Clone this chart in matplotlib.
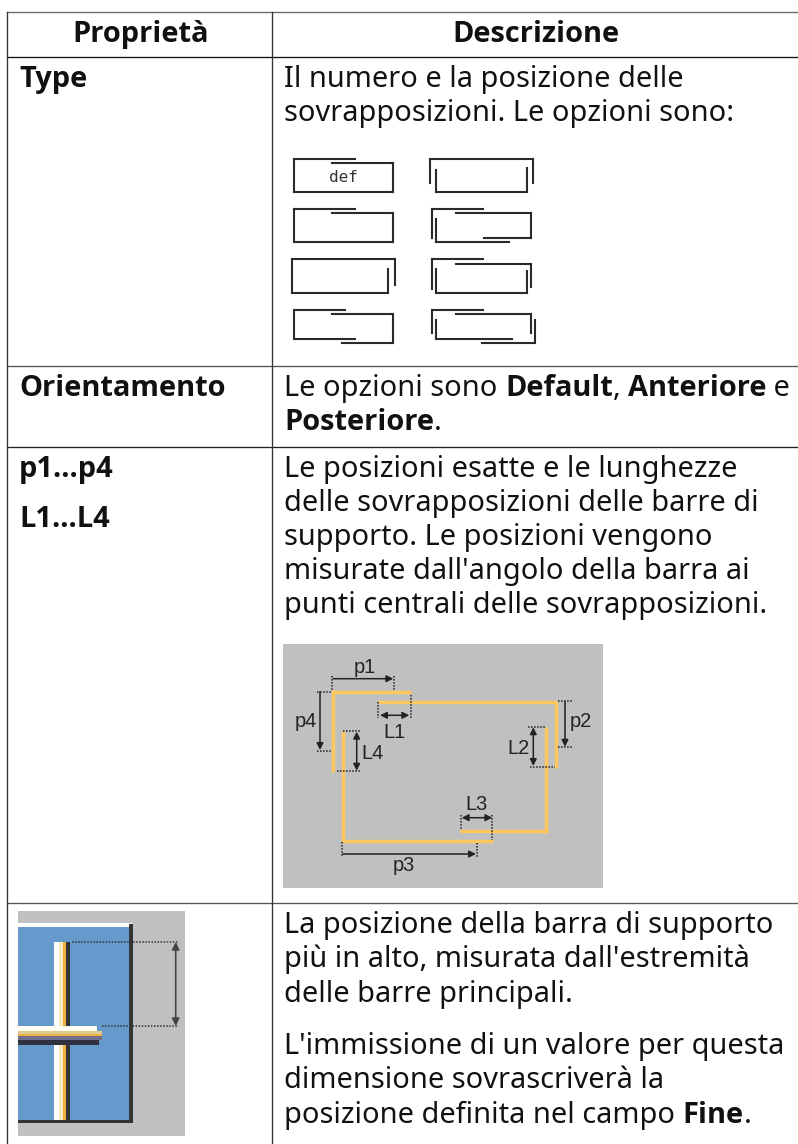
import matplotlib
matplotlib.use('Agg')
import matplotlib.pyplot as plt
from matplotlib.patches import Rectangle, Polygon

# Table text
header = ['Proprietà', 'Descrizione']
prop_names = ['Type', 'Orientamento', 'p1...p4', 'L1...L4']
type_text = ['Il numero e la posizione delle', 'sovrapposizioni. Le opzioni sono:']
orient_text = [[('Le opzioni sono ', 0), ('Default', 1), (', ', 0), ('Anteriore', 1), (' e', 0)],
               [('Posteriore', 1), ('.', 0)]]
pos_text = ['Le posizioni esatte e le lunghezze', 'delle sovrapposizioni delle barre di',
            'supporto. Le posizioni vengono', "misurate dall'angolo della barra ai",
            'punti centrali delle sovrapposizioni.']
top_text = ['La posizione della barra di supporto', "più in alto, misurata dall'estremità",
            'delle barre principali.']
over_text = ["L'immissione di un valore per questa", 'dimensione sovrascriverà la']
over_last = [('posizione definita nel campo ', 0), ('Fine', 1), ('.', 0)]

FS = 20.85
REG = 'Noto Sans'
BOLD = 'Open Sans'
INK = '#111111'
LEAD = 34.3

fig = plt.figure(figsize=(7.98, 11.44), dpi=100)
ax = fig.add_axes([0, 0, 1, 1])
ax.set_xlim(0, 798)
ax.set_ylim(1144, 0)
ax.axis('off')


def txt(x, y, s, bold=False, size=FS, color=INK, ha='left', family=None):
    fam = family if family else (BOLD if bold else REG)
    return ax.text(x, y, s, fontsize=size, color=color, ha=ha, va='baseline',
                   family=fam, fontweight='bold' if bold else 'normal')


def runs(x, y, parts):
    # mixed regular and bold text on a line, each piece starts where the last one ended
    r = fig.canvas.get_renderer()
    for s, b in parts:
        txt(x, y, s, bold=b)
        # trailing spaces are not measured, so measure with nbsp instead
        m = txt(0, 0, s.replace(' ', '\u00a0'), bold=b)
        x += m.get_window_extent(r).width
        m.remove()


def segs(items, lw=1.5, color='#2a2a2a', **kw):
    for (x0, y0, x1, y1) in items:
        ax.plot([x0, x1], [y0, y1], color=color, lw=lw, solid_capstyle='projecting', **kw)


# Table frame
row_y = [11.7, 57.3, 366, 446.7, 902.7]
row_c = ['#666666', '#111111', '#555555', '#222222', '#555555']
for y, c in zip(row_y, row_c):
    ax.plot([7.3, 798], [y, y], color=c, lw=0.95)
for x in [7.3, 272.3]:
    ax.plot([x, x], [11.7, 1144], color='#333333', lw=0.95)

# Headers
txt(141, 42, header[0], bold=True, ha='center')
txt(536, 42, header[1], bold=True, ha='center')

# Property column
txt(19, 87, prop_names[0], bold=True)
txt(19, 396, prop_names[1], bold=True)
txt(19, 477, prop_names[2], bold=True)
txt(19, 527, prop_names[3], bold=True)

# Description column
for i, s in enumerate(type_text):
    txt(284, 87 + i * LEAD, s)
for i, p in enumerate(orient_text):
    runs(284, 396 + i * LEAD, p)
for i, s in enumerate(pos_text):
    txt(284, 477 + i * 34.1, s)
for i, s in enumerate(top_text):
    txt(284, 933 + i * LEAD, s)
for i, s in enumerate(over_text):
    txt(284, 1054 + i * LEAD, s)
runs(284, 1054 + 2 * LEAD, over_last)

# Type pictograms, left column then right column
icons_left = [
    (293.7, 159.3, 355, 159.3), (293.7, 159.3, 293.7, 191.7), (331.7, 162.7, 392.7, 162.7),
    (392.7, 162.7, 392.7, 191.7), (293.7, 191.7, 392.7, 191.7),
    (293.7, 209.3, 355, 209.3), (293.7, 209.3, 293.7, 241.7), (331.7, 213.3, 392.7, 213.3),
    (392.7, 213.3, 392.7, 241.7), (293.7, 241.7, 392.7, 241.7),
    (291.7, 259.3, 394.7, 259.3), (291.7, 259.3, 291.7, 292.7), (394.7, 259.3, 394.7, 285),
    (388.3, 269.3, 388.3, 292.7), (291.7, 292.7, 388.3, 292.7),
    (293.7, 310, 345, 310), (293.7, 310, 293.7, 339), (293.7, 339, 355, 339),
    (331.7, 314, 392.7, 314), (392.7, 314, 392.7, 342.7), (341.7, 342.7, 392.7, 342.7),
]
icons_right = [
    (430.3, 159.3, 533.3, 159.3), (430.3, 159.3, 430.3, 183.3), (533.3, 159.3, 533.3, 183.3),
    (436, 170, 436, 191.7), (527.3, 168.3, 527.3, 191.7), (436, 191.7, 527.3, 191.7),
    (432.3, 209.3, 483.3, 209.3), (432.3, 209.3, 432.3, 238.3), (455.7, 213.3, 531.3, 213.3),
    (531.3, 213.3, 531.3, 237.7), (436, 219, 436, 241.7), (436, 241.7, 509.3, 241.7),
    (484, 237.7, 531.3, 237.7),
    (432.3, 259.3, 483.3, 259.3), (432.3, 259.3, 432.3, 289), (455.7, 263.7, 531.3, 263.7),
    (531.3, 263.7, 531.3, 286.7), (436, 269.3, 436, 292.7), (527.3, 271, 527.3, 292.7),
    (436, 292.7, 527.3, 292.7),
    (432.3, 310, 483.3, 310), (432.3, 310, 432.3, 333.3), (455.7, 314, 531.3, 314),
    (531.3, 314, 531.3, 333), (436, 320, 436, 339), (436, 339, 511.7, 339),
    (481.7, 342.7, 535.3, 342.7), (535.3, 320, 535.3, 342.7),
]
segs(icons_left)
segs(icons_right)
txt(343, 182.5, 'def', size=11.5, ha='center', family='DejaVu Sans Mono', color='#333333')

# Overlap diagram: grey panel, orange bars
ax.add_patch(Rectangle((283.3, 644), 320, 244.3, fc='#c0c0c0', ec='none'))
bars = [(331.7, 691.7, 411, 691.7), (333.3, 690, 333.3, 772.3), (377.7, 702, 557.3, 702),
        (556, 702, 556, 768.3), (546, 726.7, 546, 832.7), (460, 830.7, 547.7, 830.7),
        (343.3, 730.7, 343.3, 841.7), (341.7, 840.7, 493.3, 840.7)]
for x0, y0, x1, y1 in bars:
    ax.plot([x0, x1], [y0, y1], color='#ffc65c', lw=2.4, solid_capstyle='butt')

one_way = [(333.3, 678.7, 393.3, 678.7), (320, 691.7, 320, 750), (565, 701.7, 565, 746.7),
           (342.7, 854, 476, 854)]
two_way = [(380, 715.3, 409.3, 715.3), (533.3, 727.3, 533.3, 766), (356.7, 731.7, 356.7, 770.7),
           (461.7, 817.7, 492.3, 817.7)]
for x0, y0, x1, y1 in one_way:
    ax.annotate('', xy=(x1, y1), xytext=(x0, y0),
                arrowprops=dict(arrowstyle='-|>', color='#222222', lw=1.1, mutation_scale=10,
                                shrinkA=0, shrinkB=0))
for x0, y0, x1, y1 in two_way:
    ax.annotate('', xy=(x1, y1), xytext=(x0, y0),
                arrowprops=dict(arrowstyle='<|-|>', color='#222222', lw=1.1, mutation_scale=10,
                                shrinkA=0, shrinkB=0))

dots = [(331.7, 676, 331.7, 690), (394, 676, 394, 690), (316.7, 691.7, 331.7, 691.7),
        (316.7, 751, 331.7, 751), (378.3, 702, 378.3, 718.3), (410.7, 695, 410.7, 718.3),
        (558, 701, 571.7, 701), (558, 747.3, 571.7, 747.3), (528, 727.3, 545, 727.3),
        (530, 767, 555, 767), (343, 730.7, 360, 730.7), (336.7, 771, 360, 771),
        (460.7, 815, 460.7, 829.3), (492.3, 815, 492.3, 840), (342.3, 841.7, 342.3, 856.7),
        (476.7, 842.7, 476.7, 856.7)]
for x0, y0, x1, y1 in dots:
    ax.plot([x0, x1], [y0, y1], color='#222222', lw=1.1, linestyle=(0, (1, 1)))

diagram_labels = ['p1', 'p4', 'L1', 'p2', 'L2', 'L4', 'L3', 'p3']
label_x = [365, 306, 394.3, 581, 518.7, 372.7, 476.3, 404.3]
label_y = [672.7, 727.3, 737.7, 726.7, 754.3, 759.3, 810, 870.7]
for s, x, y in zip(diagram_labels, label_x, label_y):
    txt(x, y, s, size=14.4, ha='center', family='Liberation Sans', color='#222222')

# Topmost support bar thumbnail
ax.add_patch(Rectangle((18, 910.7), 167, 225.3, fc='#c0c0c0', ec='none'))
ax.add_patch(Rectangle((18, 926.7), 111.3, 193.3, fc='#6699cc', ec='none'))
ax.add_patch(Rectangle((18, 922.7), 113.7, 4, fc='white', ec='none', zorder=2))
ax.add_patch(Rectangle((129.3, 924), 3.4, 199.3, fc='#333333', ec='none', zorder=2))
ax.add_patch(Rectangle((18, 1120), 114.7, 3.3, fc='#333333', ec='none', zorder=2))
for x0, w, c in [(54.3, 5, '#ffffff'), (59.3, 4, '#f8e8c0'), (63.3, 2.7, '#f0b040'), (66, 4, '#333333')]:
    ax.add_patch(Rectangle((x0, 941.7), w, 178.3, fc=c, ec='none', zorder=3))
strip_y = [1025.7, 1030.7, 1034, 1036, 1040, 1045]
strip_c = ['#fffdf0', '#d8cc90', '#f0b040', '#70708a', '#303040']
strip_end = [97, 101.7, 102, 102, 99]
for y0, y1, c, xe in zip(strip_y[:-1], strip_y[1:], strip_c, strip_end):
    ax.add_patch(Polygon([(18, y0), (xe, y0), (xe, y1), (18, y1)], fc=c, ec='none', zorder=4))
for x0, y0, x1, y1 in [(71.7, 942, 178.3, 942), (101.7, 1026, 178.3, 1026)]:
    ax.plot([x0, x1], [y0, y1], color='#333333', lw=1.1, linestyle=(0, (1, 1)), zorder=5)
ax.annotate('', xy=(175.7, 1026), xytext=(175.7, 942),
            arrowprops=dict(arrowstyle='<|-|>', color='#444444', lw=1.2, mutation_scale=11,
                            shrinkA=0, shrinkB=0))

fig.savefig('out.png', dpi=100)
